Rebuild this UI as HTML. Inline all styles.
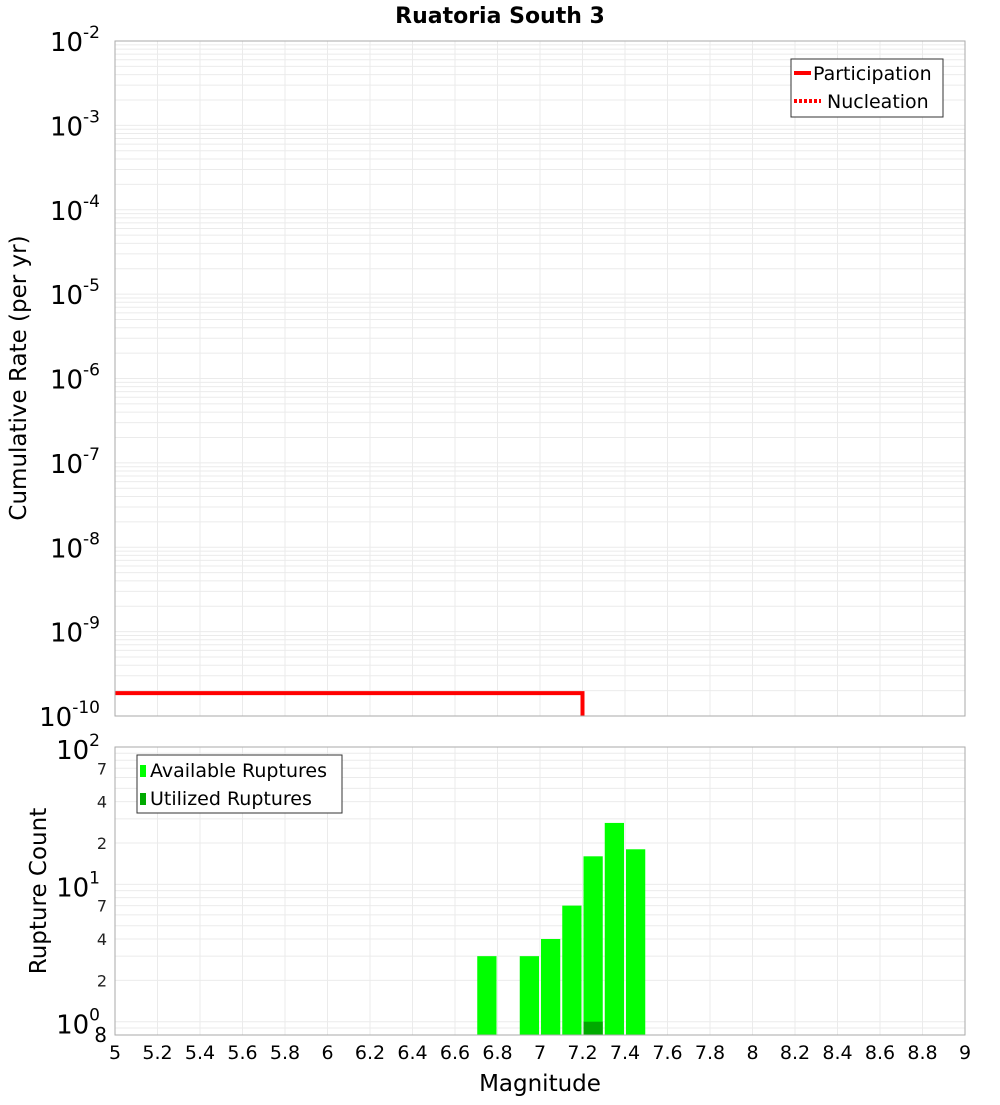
<!DOCTYPE html>
<html><head><meta charset="utf-8"><style>
body{margin:0;background:#fff;}
svg text{font-family:"DejaVu Sans","Liberation Sans",sans-serif;}
</style></head><body>
<svg id="c" width="1000" height="1100" xmlns="http://www.w3.org/2000/svg">
<text x="500" y="23" text-anchor="middle" font-size="22" font-weight="bold">Ruatoria South 3</text>
<text transform="translate(26,378) rotate(-90)" text-anchor="middle" font-size="23">Cumulative Rate (per yr)</text>
<text transform="translate(46,891) rotate(-90)" text-anchor="middle" font-size="23">Rupture Count</text>
<text x="540" y="1091" text-anchor="middle" font-size="23">Magnitude</text>
<g id="grid"></g><g id="marks"></g><g id="axes"></g>
<g>
<rect x="791" y="59" width="152" height="58" fill="#fff" stroke="#333"/>
<line x1="794" y1="73" x2="811" y2="73" stroke="red" stroke-width="4"/>
<text x="813" y="80" font-size="19">Participation</text>
<line x1="794" y1="101" x2="821" y2="101" stroke="red" stroke-width="4" stroke-dasharray="3,2"/>
<text x="827" y="108" font-size="19">Nucleation</text>
</g>
<g>
<rect x="137" y="755" width="205" height="58" fill="#fff" stroke="#333"/>
<rect x="140" y="765" width="6" height="12" fill="#00ff00"/>
<text x="150" y="777" font-size="19">Available Ruptures</text>
<rect x="140" y="793" width="6" height="12" fill="#00aa00"/>
<text x="150" y="805" font-size="19">Utilized Ruptures</text>
</g>
</svg>
<script>
const xTicks=[5,5.2,5.4,5.6,5.8,6,6.2,6.4,6.6,6.8,7,7.2,7.4,7.6,7.8,8,8.2,8.4,8.6,8.8,9];
const topDecades=[-10,-9,-8,-7,-6,-5,-4,-3,-2];
const partMag=[5,7.2,7.2];
const partRate=[1.87e-10,1.87e-10,1e-11];
const binCenters=[6.75,6.95,7.05,7.15,7.25,7.35,7.45];
const availCounts=[3,3,4,7,16,28,18];
const utilCenters=[7.25];
const utilCounts=[1];
const botMinorLabels=[2,4,7];
const NS="http://www.w3.org/2000/svg";
const L=115,R=965,T1=41,B1=716,T2=747,B2=1035;
const X=m=>L+(m-5)/(9-5)*(R-L);
const Y1=v=>B1-(Math.log10(v)+10)/8*(B1-T1);
const Y2=v=>B2-(Math.log10(v)-Math.log10(0.8))/(2-Math.log10(0.8))*(B2-T2);
function mk(tag,a,p,txt){const e=document.createElementNS(NS,tag);for(const k in a)e.setAttribute(k,a[k]);if(txt!==undefined)e.textContent=txt;p.appendChild(e);return e;}
const grid=document.getElementById('grid'),marks=document.getElementById('marks'),axes=document.getElementById('axes');
const gs={stroke:'#ebebeb','stroke-width':1};
let bg=mk('rect',{x:L,y:T1,width:R-L,height:B1-T1,fill:'#fff'},grid);

bg=mk('rect',{x:L,y:T2,width:R-L,height:B2-T2,fill:'#fff'},grid);

xTicks.forEach(m=>{mk('line',Object.assign({x1:X(m),x2:X(m),y1:T1,y2:B1},gs),grid);mk('line',Object.assign({x1:X(m),x2:X(m),y1:T2,y2:B2},gs),grid);
 const t=mk('text',{x:X(m),y:1059,'text-anchor':'middle','font-size':19},axes,String(m));
 });
topDecades.forEach(d=>{for(let k=1;k<10;k++){const v=k*Math.pow(10,d);if(Y1(v)<T1-0.5)break;mk('line',Object.assign({x1:L,x2:R,y1:Y1(v),y2:Y1(v)},gs),grid);}
 const t=mk('text',{x:100,y:Y1(Math.pow(10,d))+10,'text-anchor':'end','font-size':26},axes);
 
 mk('tspan',{},t,'10');
 const s=mk('tspan',{dy:-13,'font-size':17},t,String(d));});
[-1,0,1].forEach(d=>{for(let k=1;k<10;k++){const v=k*Math.pow(10,d);if(Y2(v)>B2+0.5||Y2(v)<T2-0.5)continue;mk('line',Object.assign({x1:L,x2:R,y1:Y2(v),y2:Y2(v)},gs),grid);}});
[0,1,2].forEach(d=>{const t=mk('text',{x:100,y:Y2(Math.pow(10,d))+12,'text-anchor':'end','font-size':26},axes);
 
 mk('tspan',{},t,'10');mk('tspan',{dy:-13,'font-size':17},t,String(d));});
[0,1].forEach(d=>botMinorLabels.forEach(k=>{const t=mk('text',{x:107,y:Y2(k*Math.pow(10,d))+6,'text-anchor':'end','font-size':16,fill:'#222'},axes,String(k));
 }));
let t8=mk('text',{x:107,y:1042,'text-anchor':'end','font-size':20},axes,'8');

const bw=(X(0.1)-X(0))-2;
binCenters.forEach((m,i)=>{const r=mk('rect',{x:X(m)-bw/2,y:Y2(availCounts[i]),width:bw,height:B2-Y2(availCounts[i]),fill:'#00ff00'},marks);
 });
utilCenters.forEach((m,i)=>{const r=mk('rect',{x:X(m)-bw/2,y:Y2(utilCounts[i]),width:bw,height:B2-Y2(utilCounts[i]),fill:'#00aa00'},marks);
 });
const cp=document.createElementNS(NS,'clipPath');cp.setAttribute('id','tc');mk('rect',{x:L,y:T1,width:R-L,height:B1-T1},cp);marks.appendChild(cp);
const pl=mk('polyline',{points:partMag.map((m,i)=>X(m)+','+Y1(partRate[i])).join(' '),fill:'none',stroke:'red','stroke-width':4,'clip-path':'url(#tc)'},marks);

mk('rect',{x:L,y:T1,width:R-L,height:B1-T1,fill:'none',stroke:'#aaa'},axes);
mk('rect',{x:L,y:T2,width:R-L,height:B2-T2,fill:'none',stroke:'#aaa'},axes);
</script>
</body></html>
